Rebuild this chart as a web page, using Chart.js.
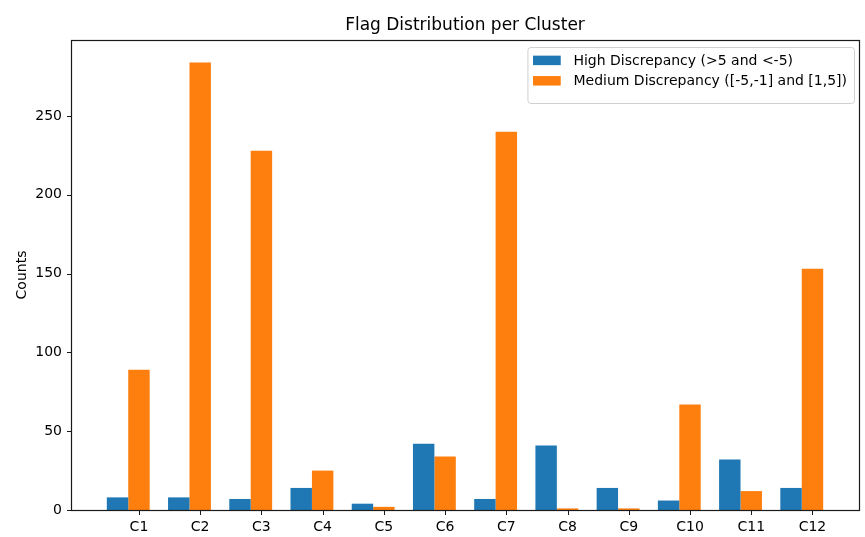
<!DOCTYPE html>
<html>
<head>
<meta charset="utf-8">
<style>
  html, body { margin: 0; padding: 0; background: #ffffff; }
  #wrap { width: 865px; height: 537px; }
</style>
<script src="https://cdn.jsdelivr.net/npm/chart.js@4.4.1/dist/chart.umd.min.js"></script>
</head>
<body>
<div id="wrap"><canvas id="chart" width="865" height="537"></canvas></div>
<script>
// Flag counts per cluster
const clusters = ['C1', 'C2', 'C3', 'C4', 'C5', 'C6', 'C7', 'C8', 'C9', 'C10', 'C11', 'C12'];
const highDiscrepancy = [8, 8, 7, 14, 4, 42, 7, 41, 14, 6, 32, 14];
const mediumDiscrepancy = [89, 284, 228, 25, 2, 34, 240, 1, 1, 67, 12, 153];
const yTickValues = [0, 50, 100, 150, 200, 250];
const seriesLabels = ['High Discrepancy (>5 and <-5)', 'Medium Discrepancy ([-5,-1] and [1,5])'];
const chartTitle = 'Flag Distribution per Cluster';
const yTitle = 'Counts';

const BLUE = '#1f77b4';
const ORANGE = '#ff7f0e';
const FONT = 'DejaVu Sans';
const FS = 14;
const barWidth = 0.35;

// x-axis limits with 5% margin around the outer bar edges
const xLo = -barWidth / 2;
const xHi = (clusters.length - 1) + barWidth + barWidth / 2;
const xPad = 0.05 * (xHi - xLo);
const yMax = Math.max(...highDiscrepancy, ...mediumDiscrepancy) * 1.05;

// Frame, tick marks, centred title and boxed legend drawn on top of the plot
const decorations = {
  id: 'decorations',
  afterDraw(chart) {
    const ctx = chart.ctx;
    const a = chart.chartArea;
    const L = Math.round(a.left) + 0.5, T = Math.round(a.top) + 0.5;
    const R = Math.round(a.right) + 0.5, B = Math.round(a.bottom) + 0.5;
    ctx.save();
    ctx.strokeStyle = '#1a1a1a';
    ctx.lineWidth = 1.2;
    ctx.strokeRect(L, T, R - L, B - T);

    // outward tick marks
    ctx.lineWidth = 1;
    ctx.beginPath();
    const xs = chart.scales.x, ys = chart.scales.y;
    xs.ticks.forEach((t, i) => {
      const px = Math.round(xs.getPixelForTick(i)) + 0.5;
      ctx.moveTo(px, B); ctx.lineTo(px, B + 4.5);
    });
    ys.ticks.forEach((t, i) => {
      const py = Math.round(ys.getPixelForTick(i)) + 0.5;
      ctx.moveTo(L, py); ctx.lineTo(L - 4.5, py);
    });
    ctx.stroke();

    // title
    ctx.fillStyle = '#000';
    ctx.font = '17px "' + FONT + '"';
    ctx.textAlign = 'center';
    ctx.textBaseline = 'middle';
    ctx.fillText(chartTitle, (a.left + a.right) / 2, 26);

    // legend
    ctx.font = FS + 'px "' + FONT + '"';
    const textW = Math.max(...seriesLabels.map(t => ctx.measureText(t).width));
    const padL = 5.6, padR = 7, handleW = 27.7, handleH = 9.5, gap = 12.7, rowH = 20.4;
    const boxW = padL + handleW + gap + textW + padR;
    const boxH = 56;
    const right = a.right - 5;
    const left = right - boxW;
    const top = a.top + 7;
    ctx.beginPath();
    ctx.roundRect(left + 0.5, top + 0.5, boxW, boxH, 3);
    ctx.fillStyle = 'rgba(255,255,255,0.8)';
    ctx.fill();
    ctx.strokeStyle = '#d0d0d0';
    ctx.lineWidth = 1;
    ctx.stroke();
    const colors = [BLUE, ORANGE];
    seriesLabels.forEach((label, i) => {
      const cy = top + 13.4 + i * rowH;
      ctx.fillStyle = colors[i];
      ctx.fillRect(left + padL, cy - handleH / 2, handleW, handleH);
      ctx.fillStyle = '#000';
      ctx.textAlign = 'left';
      ctx.textBaseline = 'middle';
      ctx.fillText(label, left + padL + handleW + gap, cy + 0.5);
    });
    ctx.restore();
  }
};

const axisGrid = { display: false, drawTicks: false, tickLength: 5 };

new Chart(document.getElementById('chart'), {
  type: 'bar',
  data: {
    datasets: [
      {
        label: seriesLabels[0],
        data: highDiscrepancy.map((v, i) => ({ x: i, y: v })),
        backgroundColor: BLUE,
        borderWidth: 0,
        inflateAmount: 0,
        grouped: false,
        barPercentage: 1,
        categoryPercentage: 1
      },
      {
        label: seriesLabels[1],
        data: mediumDiscrepancy.map((v, i) => ({ x: i + barWidth, y: v })),
        backgroundColor: ORANGE,
        borderWidth: 0,
        inflateAmount: 0,
        grouped: false,
        barPercentage: 1,
        categoryPercentage: 1
      }
    ]
  },
  options: {
    responsive: false,
    animation: false,
    devicePixelRatio: 1,
    events: [],
    layout: { padding: { top: 40, right: 6, bottom: 0, left: 0 } },
    plugins: {
      legend: { display: false },
      title: { display: false },
      tooltip: { enabled: false }
    },
    scales: {
      x: {
        type: 'linear',
        offset: false,
        min: xLo - xPad,
        max: xHi + xPad,
        afterBuildTicks(scale) {
          scale.ticks = clusters.map((c, i) => ({ value: i + barWidth }));
        },
        afterFit(scale) { scale.height = 27; },
        ticks: {
          autoSkip: false,
          maxRotation: 0,
          padding: 9,
          color: '#000',
          font: { family: FONT, size: FS },
          callback: (value, index) => clusters[index]
        },
        grid: axisGrid,
        border: { display: false }
      },
      y: {
        type: 'linear',
        min: 0,
        max: yMax,
        afterBuildTicks(scale) {
          scale.ticks = yTickValues.map(v => ({ value: v }));
        },
        afterFit(scale) { scale.width = 71; },
        ticks: {
          padding: 9,
          color: '#000',
          font: { family: FONT, size: FS },
          callback: v => String(v)
        },
        grid: axisGrid,
        border: { display: false },
        title: {
          display: true,
          text: yTitle,
          color: '#000',
          font: { family: FONT, size: FS },
          padding: { top: 13.5, bottom: 0 }
        }
      }
    }
  },
  plugins: [decorations]
});
</script>
</body>
</html>
